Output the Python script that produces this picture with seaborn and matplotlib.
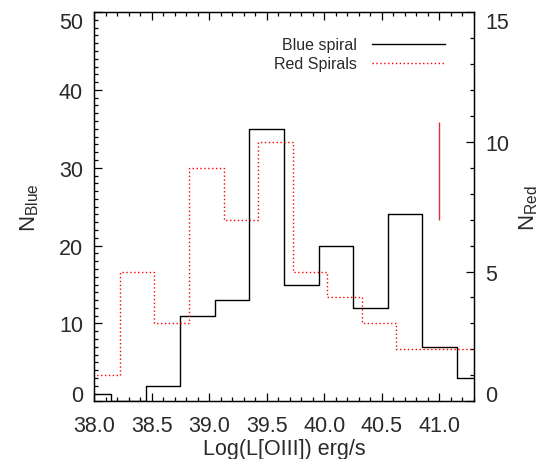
import numpy as np
import pandas as pd
import matplotlib
matplotlib.use("Agg")
import matplotlib.pyplot as plt
import seaborn as sns
from matplotlib.ticker import MultipleLocator
from matplotlib.lines import Line2D

# ---- data ----
blue_edges = [37.85, 38.15, 38.45, 38.75, 39.05, 39.35, 39.65, 39.95,
              40.25, 40.55, 40.85, 41.15, 41.45]
blue_counts = [1, 0, 2, 11, 13, 35, 15, 20, 12, 24, 7, 3]
red_edges = [37.925, 38.225, 38.525, 38.825, 39.125, 39.425, 39.725, 40.025,
             40.325, 40.625, 40.925, 41.225, 41.525]
red_counts = [1, 5, 3, 9, 7, 10, 5, 4, 3, 2, 2, 2]
err_x = 41.0
err_low, err_high = 7.0, 10.75          # in N_Red units
x_ticks = [38.0, 38.5, 39.0, 39.5, 40.0, 40.5, 41.0]
x_ticklabels = ["38.0", "38.5", "39.0", "39.5", "40.0", "40.5", "41.0"]
blue_ticks = [0, 10, 20, 30, 40, 50]
red_ticks = [0, 5, 10, 15]
legend_labels = ["Blue spiral", "Red Spirals"]

plt.rcParams["font.family"] = ["Liberation Sans", "DejaVu Sans"]
plt.rcParams["mathtext.fontset"] = "custom"
plt.rcParams["mathtext.rm"] = "Liberation Sans"
plt.rcParams["mathtext.it"] = "Liberation Sans:italic"
plt.rcParams["axes.linewidth"] = 0.9
TXT = "#2a2a2a"

be = np.array(blue_edges)
re_ = np.array(red_edges)
blue_df = pd.DataFrame({"x": (be[:-1] + be[1:]) / 2, "w": blue_counts})
red_df = pd.DataFrame({"x": (re_[:-1] + re_[1:]) / 2, "w": red_counts})

fig = plt.figure(figsize=(5.54, 4.60), dpi=100)
ax = fig.add_axes([94 / 554, 1 - 402.3 / 460, 380 / 554, 389.3 / 460])
ax2 = ax.twinx()

sns.histplot(data=blue_df, x="x", weights="w", bins=blue_edges,
             element="step", fill=False, color="black", linewidth=1.0, ax=ax)
sns.histplot(data=red_df, x="x", weights="w", bins=red_edges,
             element="step", fill=False, color="red", linewidth=1.0,
             linestyle=(0, (1, 1.8)), ax=ax2)
ax2.vlines(err_x, err_low, err_high, color="#d83040", linewidth=1.0)

ax.set_xlim(38.0, 41.3)
ax.set_ylim(0, 50)
ax2.set_ylim(0, 15)

ax.set_xticks(x_ticks)
ax.set_xticklabels(x_ticklabels)
ax.xaxis.set_minor_locator(MultipleLocator(0.1))
ax.set_yticks(blue_ticks)
ax.set_yticklabels([str(v) for v in blue_ticks])
ax.yaxis.set_minor_locator(MultipleLocator(1))
ax2.set_yticks(red_ticks)
ax2.set_yticklabels([str(v) for v in red_ticks])
ax2.yaxis.set_minor_locator(MultipleLocator(1))

ax.tick_params(axis="x", which="both", direction="in", top=True, bottom=True,
               labelsize=15.5, pad=10, width=0.9, labelcolor=TXT)
ax.tick_params(axis="y", which="both", direction="in", left=True, right=False,
               labelsize=15.5, pad=8, width=0.9, labelcolor=TXT)
ax2.tick_params(axis="y", which="both", direction="in", left=False, right=True,
                labelsize=15.5, pad=8, width=0.9, labelcolor=TXT)
for a in (ax, ax2):
    a.tick_params(which="major", length=5.8)
    a.tick_params(which="minor", length=2.9)
    labs = a.get_yticklabels()
    labs[0].set_va("baseline")
    labs[-1].set_va("top")

ax.set_xlabel("Log(L[OIII]) erg/s", fontsize=15.5, labelpad=1.5, color=TXT)
ax.set_ylabel(r"N$_{\mathrm{Blue}}$", fontsize=16, labelpad=13, color=TXT)
ax2.set_ylabel(r"N$_{\mathrm{Red}}$", fontsize=16, labelpad=6, rotation=90,
               va="top", color=TXT)

handles = [Line2D([], [], color="black", lw=1.0),
           Line2D([], [], color="red", lw=1.0, linestyle=(0, (1, 1.8)))]
leg = ax.legend(handles, legend_labels, loc="upper right", frameon=False,
                markerfirst=False, handlelength=4.6, handletextpad=0.9,
                labelspacing=0.25, borderpad=0, borderaxespad=0,
                bbox_to_anchor=(0.924, 0.935), fontsize=11.5)
for t in leg.get_texts():
    t.set_color(TXT)

fig.savefig("out.png", dpi=100)
